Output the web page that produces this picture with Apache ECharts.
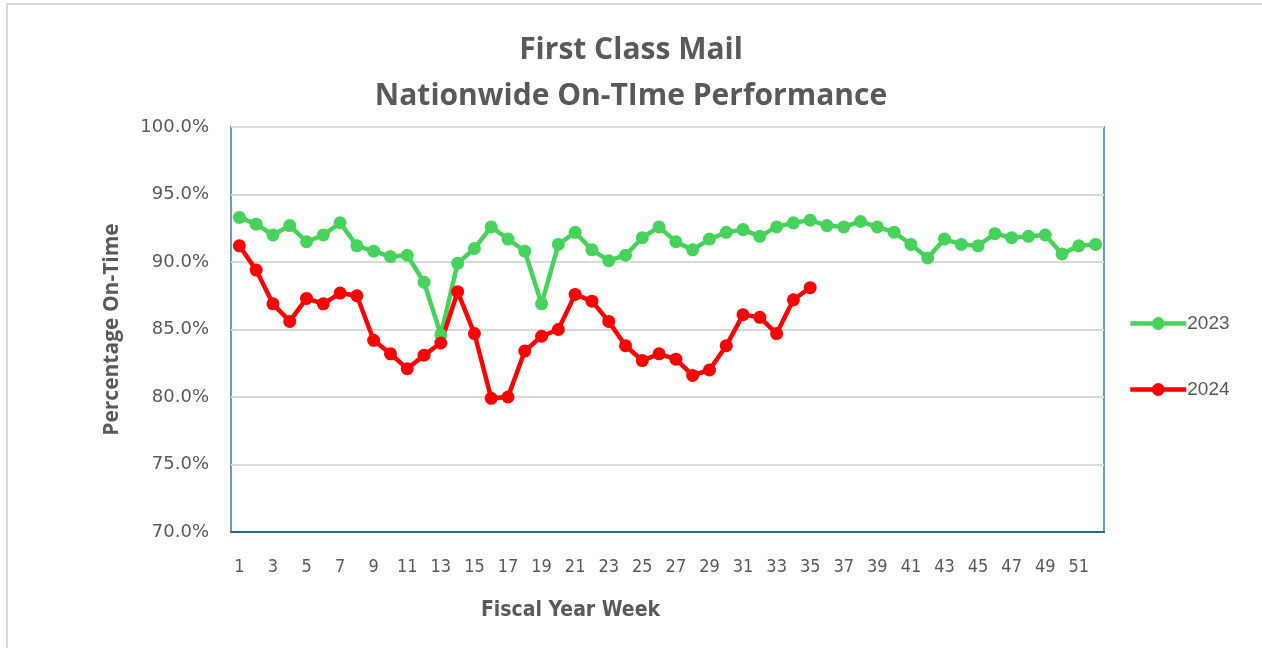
<!DOCTYPE html>
<html>
<head>
<meta charset="utf-8">
<script src="https://cdn.jsdelivr.net/npm/echarts@6/dist/echarts.min.js"></script>
<style>
html,body{margin:0;padding:0;background:#fff;}
#c{width:1262px;height:648px;}
</style>
</head>
<body>
<div id="c"></div>
<script>
const weeks = [];
for (let i = 1; i <= 52; i++) weeks.push(String(i));
const yTicks = [70, 75, 80, 85, 90, 95, 100];
const s2023 = [93.3, 92.8, 92.0, 92.7, 91.5, 92.0, 92.9, 91.2, 90.8, 90.4, 90.5, 88.5, 84.6, 89.9,
  91.0, 92.6, 91.7, 90.8, 86.9, 91.3, 92.2, 90.9, 90.1, 90.5, 91.8, 92.6, 91.5, 90.9, 91.7, 92.2,
  92.4, 91.9, 92.6, 92.9, 93.1, 92.7, 92.6, 93.0, 92.6, 92.2, 91.3, 90.3, 91.7, 91.3, 91.2, 92.1,
  91.8, 91.9, 92.0, 90.6, 91.2, 91.3];
const s2024 = [91.2, 89.4, 86.9, 85.6, 87.3, 86.9, 87.7, 87.5, 84.2, 83.2, 82.1, 83.1, 84.0, 87.8,
  84.7, 79.9, 80.0, 83.4, 84.5, 85.0, 87.6, 87.1, 85.6, 83.8, 82.7, 83.2, 82.8, 81.6, 82.0, 83.8,
  86.1, 85.9, 84.7, 87.2, 88.1];

const chart = echarts.init(document.getElementById('c'), null, {renderer: 'canvas'});
const gray = '#595959';
const narrow = "'DejaVu Sans Condensed', 'Liberation Sans', sans-serif";
chart.setOption({
  backgroundColor: '#fff',
  animation: false,
  graphic: [{
    type: 'rect', shape: {x: 7, y: 4, width: 1256, height: 660},
    style: {fill: 'none', stroke: '#d9d9d9', lineWidth: 2}, silent: true
  }],
  title: {
    text: 'First Class Mail\nNationwide On-TIme Performance',
    left: 'center', top: 22,
    textStyle: {color: gray, fontSize: 30, fontWeight: 'bold', fontFamily: 'Open Sans', lineHeight: 46}
  },
  legend: {
    orient: 'vertical', left: 1128, top: 314, itemGap: 47, padding: 0,
    itemWidth: 56, itemHeight: 16,
    lineStyle: {width: 4.5},
    textStyle: {color: gray, fontSize: 19, fontFamily: 'Liberation Sans', padding: [0, 0, 0, -4]},
    data: ['2023', '2024']
  },
  grid: {left: 231, top: 127, width: 873, height: 405, show: true, borderColor: '#6a9bb8', borderWidth: 2, containLabel: false},
  xAxis: {
    type: 'category', data: weeks, boundaryGap: true,
    name: 'Fiscal Year Week', nameLocation: 'middle', nameGap: 68,
    nameTextStyle: {color: gray, fontSize: 21, fontWeight: 'bold', fontFamily: narrow, padding: [0, 0, 0, -194]},
    axisLine: {show: true, lineStyle: {color: '#24658a', width: 2}},
    axisTick: {show: false},
    axisLabel: {interval: 1, color: gray, fontSize: 18, fontFamily: narrow, margin: 26}
  },
  yAxis: {
    type: 'value', min: 70, max: 100, interval: 5,
    name: 'Percentage On-Time', nameLocation: 'middle', nameGap: 108,
    nameTextStyle: {color: gray, fontSize: 21, fontWeight: 'bold', fontFamily: 'Open Sans'},
    axisLine: {show: false}, axisTick: {show: false},
    axisLabel: {color: gray, fontSize: 18, fontFamily: 'DejaVu Sans', margin: 22,
      formatter: v => v.toFixed(1) + '%'},
    splitLine: {lineStyle: {color: '#d9d9d9', width: 2}}
  },
  series: [
    {name: '2023', type: 'line', data: s2023, symbol: 'circle', symbolSize: 13, showAllSymbol: true,
      lineStyle: {color: '#47d35b', width: 4.5}, itemStyle: {color: '#47d35b'}},
    {name: '2024', type: 'line', data: s2024, symbol: 'circle', symbolSize: 13, showAllSymbol: true,
      lineStyle: {color: '#ff0000', width: 4.5}, itemStyle: {color: '#ff0000'}}
  ]
});
</script>
</body>
</html>
